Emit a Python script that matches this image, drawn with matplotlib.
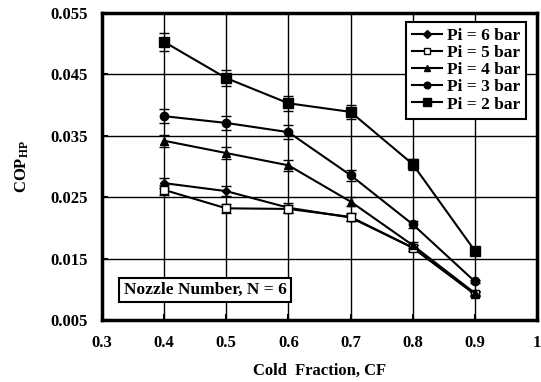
import numpy as np
import matplotlib
matplotlib.use("Agg")
import matplotlib.pyplot as plt

plt.rcParams['font.family'] = 'Liberation Serif'
plt.rcParams['font.weight'] = 'bold'
plt.rcParams['mathtext.fontset'] = 'custom'
plt.rcParams['mathtext.rm'] = 'Liberation Serif:bold'
plt.rcParams['mathtext.it'] = 'Liberation Serif:bold'
plt.rcParams['mathtext.bf'] = 'Liberation Serif:bold'

# cold fraction
cf = [0.4, 0.5, 0.6, 0.7, 0.8, 0.9]

# COP_HP for each inlet pressure
cop_6 = [0.0273, 0.0260, 0.0233, 0.0217, 0.0168, 0.0093]
cop_5 = [0.0262, 0.0232, 0.0231, 0.0218, 0.0168, 0.0092]
cop_4 = [0.0342, 0.0322, 0.0302, 0.0243, 0.0172, 0.0094]
cop_3 = [0.0382, 0.0371, 0.0356, 0.0286, 0.0206, 0.0113]
cop_2 = [0.0503, 0.0444, 0.0403, 0.0389, 0.0304, 0.0163]

# error bar half-lengths
err_6 = [0.0008, 0.0008, 0.0007, 0.0006, 0.0005, 0.0003]
err_5 = [0.0008, 0.0007, 0.0007, 0.0006, 0.0005, 0.0003]
err_4 = [0.0010, 0.0010, 0.0009, 0.0007, 0.0005, 0.0003]
err_3 = [0.0011, 0.0011, 0.0011, 0.0009, 0.0006, 0.0003]
err_2 = [0.0015, 0.0013, 0.0012, 0.0012, 0.0009, 0.0005]

labels = ['Pi = 6 bar', 'Pi = 5 bar', 'Pi = 4 bar', 'Pi = 3 bar', 'Pi = 2 bar']
series = [cop_6, cop_5, cop_4, cop_3, cop_2]
errors = [err_6, err_5, err_4, err_3, err_2]
markers = ['D', 's', '^', 'o', 's']
faces = ['black', 'white', 'black', 'black', 'black']
msizes = [4.5, 5.5, 6, 6, 7]

fig = plt.figure(figsize=(5.41, 3.82), dpi=100)
ax = fig.add_axes([0.1885, 0.162, 0.804, 0.804])

handles = []
for y, e, lab, m, fc, ms in zip(series, errors, labels, markers, faces, msizes):
    eb = ax.errorbar(cf, y, yerr=e, color='black', lw=1.5, marker=m, markersize=ms,
                     markerfacecolor=fc, markeredgecolor='black', markeredgewidth=1,
                     ecolor='black', elinewidth=0.8, capsize=3.5, capthick=0.8, label=lab)
    handles.append(eb[0])  # line only, no error bars in the legend

ax.set_xlim(0.3, 1.0)
ax.set_ylim(0.005, 0.055)
ax.set_xticks(np.arange(0.3, 1.01, 0.1))
ax.set_xticklabels(['0.3', '0.4', '0.5', '0.6', '0.7', '0.8', '0.9', '1'])
ax.set_yticks(np.arange(0.005, 0.0551, 0.01))
ax.set_yticklabels(['0.005', '0.015', '0.025', '0.035', '0.045', '0.055'])
ax.tick_params(direction='in', length=4, width=1.5, labelsize=12)
ax.tick_params(axis='y', pad=10)
ax.tick_params(axis='x', pad=11)
ax.grid(True, color='black', lw=1)
for s in ax.spines.values():
    s.set_linewidth(2.5)

ax.set_xlabel('Cold  Fraction, CF', fontsize=12, fontweight='bold', labelpad=8)
ax.set_ylabel('COP$_{\\mathrm{HP}}$', fontsize=12, fontweight='bold', labelpad=14)

leg = ax.legend(handles, labels, loc='upper right', fontsize=12.5, handlelength=1.7,
                handletextpad=0.3, labelspacing=0.05, borderpad=0.35, frameon=True,
                fancybox=False, markerscale=0.8, bbox_to_anchor=(0.975, 0.97),
                borderaxespad=0)
leg.get_frame().set_edgecolor('black')
leg.get_frame().set_linewidth(1.5)
leg.get_frame().set_alpha(1)

ax.text(0.05, 0.098, 'Nozzle Number, N = 6', transform=ax.transAxes, fontsize=12.5,
        fontweight='bold', ha='left', va='center',
        bbox=dict(boxstyle='square,pad=0.25', fc='white', ec='black', lw=1.5))

fig.savefig('out.png', dpi=100)
